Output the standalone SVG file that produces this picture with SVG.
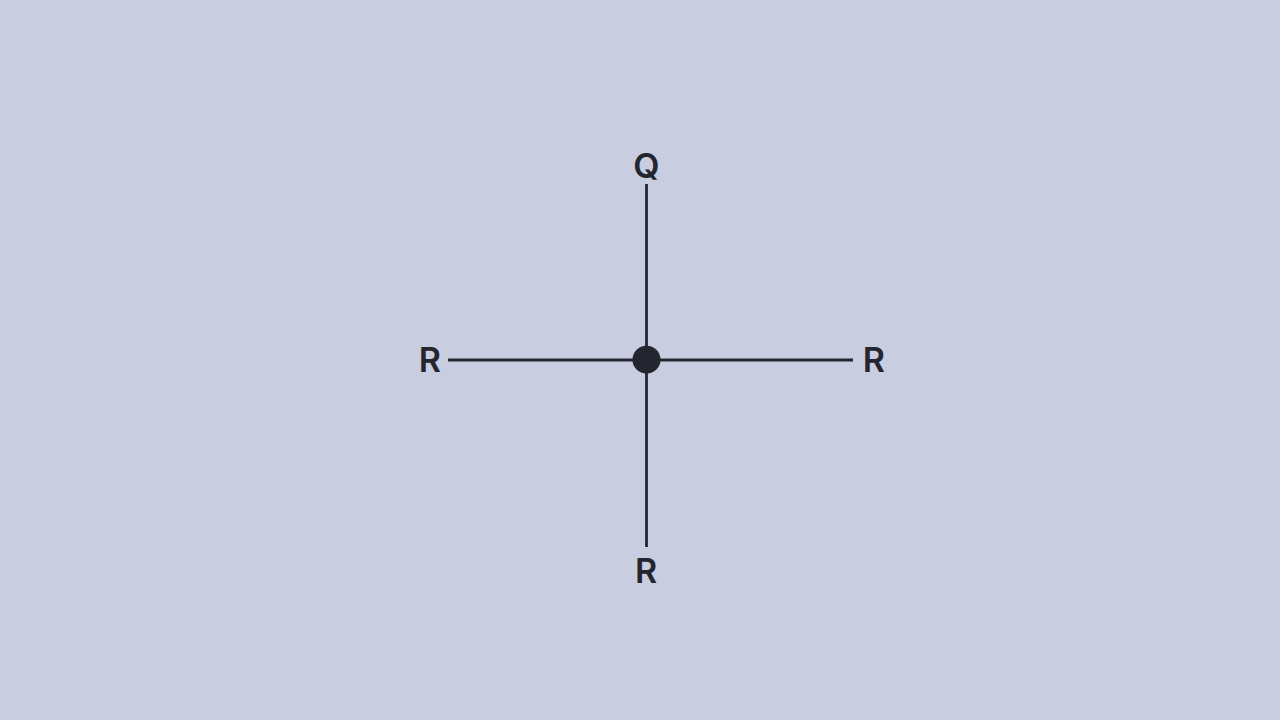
<svg xmlns="http://www.w3.org/2000/svg" width="1280" height="720" viewBox="0 0 1280 720">
  <style>
    .lbl { font-family: "Inter", "Liberation Sans", sans-serif; font-weight: 600; font-size: 34px; fill: #24262f; text-anchor: middle; }
    .edge { stroke: #24262f; stroke-width: 2.8; fill: none; }
  </style>
  <rect width="1280" height="720" fill="#c8cde0"/>
  <g id="connectors">
    <line class="edge" x1="646.5" y1="184" x2="646.5" y2="360"/>
    <line class="edge" x1="646.5" y1="360" x2="646.5" y2="547"/>
    <line class="edge" x1="448" y1="360" x2="646.5" y2="360"/>
    <line class="edge" x1="646.5" y1="360" x2="853" y2="360"/>
  </g>
  <g id="center">
    <circle cx="646.5" cy="359.7" r="14" fill="#24262f"/>
  </g>
  <g id="node-q">
    <text class="lbl" x="646.3" y="177.5">Q</text>
  </g>
  <g id="node-r-left">
    <text class="lbl" x="429.8" y="372.3">R</text>
  </g>
  <g id="node-r-right">
    <text class="lbl" x="873.8" y="372.3">R</text>
  </g>
  <g id="node-r-bottom">
    <text class="lbl" x="646" y="583">R</text>
  </g>
</svg>
